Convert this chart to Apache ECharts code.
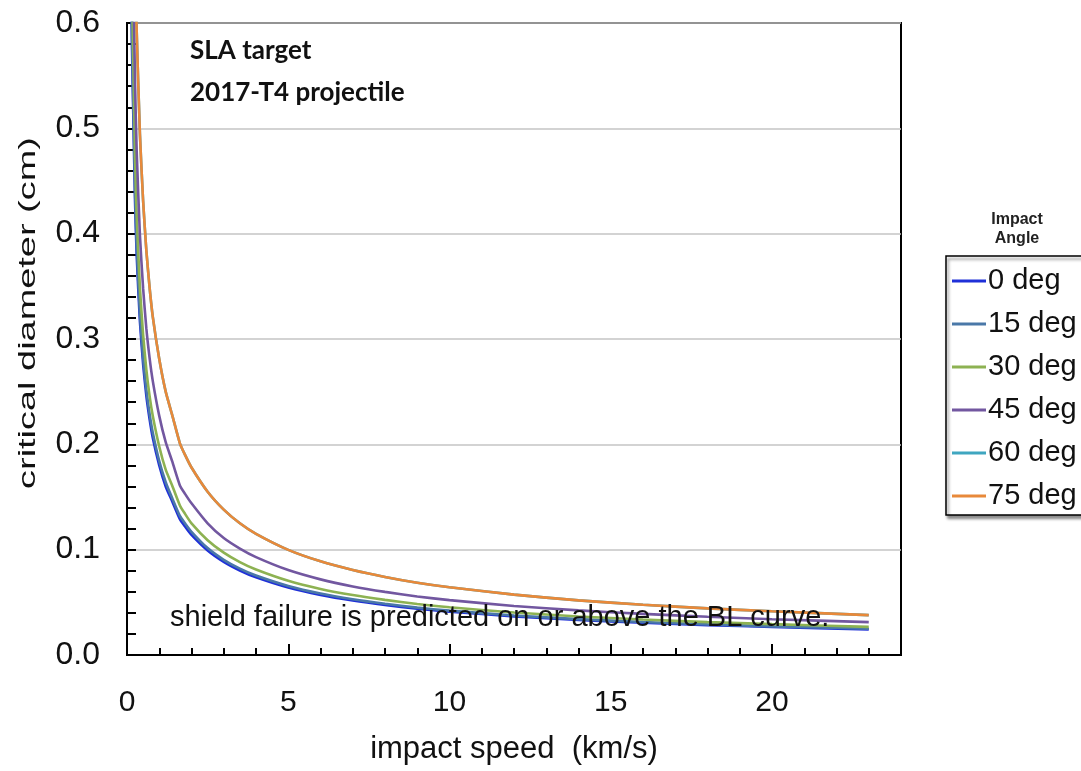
<!DOCTYPE html>
<html>
<head>
<meta charset="utf-8">
<script src="https://cdn.jsdelivr.net/npm/echarts@6/dist/echarts.min.js"></script>
<style>html,body{margin:0;padding:0;background:#fff;}#c{width:1081px;height:771px;}</style>
</head>
<body>
<div id="c"></div>
<script>
// impact speed (km/s)
const speed = [0.1, 0.15, 0.2, 0.25, 0.3, 0.4, 0.5, 0.6, 0.7, 0.8, 1.0, 1.2, 1.4, 1.64, 1.8, 2, 2.5, 3, 3.5, 4, 5, 6, 7, 8, 9, 10, 12, 14, 16, 18, 20, 23];
// critical diameter (cm) per impact angle
const deg0  = [0.748, 0.585, 0.505, 0.430, 0.380, 0.317, 0.276, 0.246, 0.224, 0.206, 0.180, 0.160, 0.146, 0.129, 0.122, 0.114, 0.0992, 0.0884, 0.0802, 0.0737, 0.0640, 0.0570, 0.0517, 0.0475, 0.0440, 0.0412, 0.0367, 0.0333, 0.0306, 0.0284, 0.0266, 0.0243];
const deg15 = [0.765, 0.598, 0.517, 0.440, 0.389, 0.324, 0.282, 0.252, 0.229, 0.211, 0.184, 0.164, 0.149, 0.132, 0.125, 0.117, 0.1015, 0.0904, 0.0820, 0.0754, 0.0655, 0.0583, 0.0529, 0.0486, 0.0450, 0.0421, 0.0375, 0.0341, 0.0313, 0.0291, 0.0272, 0.0249];
const deg30 = [0.823, 0.644, 0.556, 0.473, 0.418, 0.349, 0.304, 0.271, 0.246, 0.227, 0.198, 0.176, 0.161, 0.142, 0.134, 0.125, 0.109, 0.0972, 0.0882, 0.0811, 0.0704, 0.0627, 0.0569, 0.0523, 0.0484, 0.0453, 0.0404, 0.0366, 0.0337, 0.0312, 0.0293, 0.0267];
const deg45 = [0.942, 0.737, 0.636, 0.542, 0.479, 0.399, 0.348, 0.310, 0.282, 0.260, 0.227, 0.202, 0.184, 0.161, 0.153, 0.144, 0.125, 0.111, 0.101, 0.0929, 0.0806, 0.0718, 0.0651, 0.0599, 0.0556, 0.0521, 0.0465, 0.0424, 0.0390, 0.0363, 0.0340, 0.0312];
const deg60 = [1.167, 0.913, 0.788, 0.671, 0.593, 0.495, 0.431, 0.384, 0.349, 0.321, 0.281, 0.250, 0.228, 0.201, 0.190, 0.178, 0.155, 0.138, 0.125, 0.115, 0.0998, 0.0889, 0.0807, 0.0741, 0.0686, 0.0643, 0.0573, 0.0519, 0.0477, 0.0443, 0.0415, 0.0379];
const deg75 = [1.167, 0.913, 0.788, 0.671, 0.593, 0.495, 0.431, 0.384, 0.349, 0.321, 0.281, 0.250, 0.228, 0.201, 0.190, 0.178, 0.155, 0.138, 0.125, 0.115, 0.0998, 0.0889, 0.0807, 0.0741, 0.0686, 0.0643, 0.0573, 0.0519, 0.0477, 0.0443, 0.0415, 0.0379];
const seriesNames = ['0 deg', '15 deg', '30 deg', '45 deg', '60 deg', '75 deg'];
const seriesData = [deg0, deg15, deg30, deg45, deg60, deg75];
const colors = ['#1f30d8', '#4a78a8', '#8db252', '#7257a0', '#3fa6c0', '#e8893a'];
const yTicks = [0, 0.1, 0.2, 0.3, 0.4, 0.5, 0.6];
const xTicks = [0, 5, 10, 15, 20];

const FONT = 'Liberation Sans';
const chart = echarts.init(document.getElementById('c'), null, {renderer: 'canvas'});

const series = seriesNames.map((name, k) => ({
  name: name,
  type: 'line',
  xAxisIndex: 0,
  data: speed.map((v, i) => [v, seriesData[k][i]]),
  showSymbol: false,
  symbol: 'none',
  smooth: 0.2,
  clip: true,
  lineStyle: {color: colors[k], width: 2.6},
  itemStyle: {color: colors[k]},
  z: 2 + k
}));

chart.setOption({
  animation: false,
  backgroundColor: '#fff',
  color: colors,
  grid: {left: 127, top: 23, right: 180, bottom: 116, show: true, borderColor: '#000', borderWidth: 2, backgroundColor: 'transparent'},
  legend: {
    orient: 'vertical',
    left: 946, top: 256,
    data: seriesNames,
    icon: 'rect',
    itemWidth: 34, itemHeight: 3,
    itemGap: 13,
    padding: [10, 20, 4, 6],
    borderColor: '#000', borderWidth: 1.5,
    backgroundColor: '#fff',
    shadowColor: 'rgba(0,0,0,0.45)', shadowBlur: 3, shadowOffsetX: 2, shadowOffsetY: 3,
    textStyle: {fontFamily: FONT, fontSize: 29, color: '#111', lineHeight: 30, padding: [0,0,0,-3]}
  },
  xAxis: [{
    type: 'value', min: 0, max: 24, interval: 1,
    name: 'impact speed  (km/s)', nameLocation: 'middle', nameGap: 79,
    nameTextStyle: {fontFamily: FONT, fontSize: 31, color: '#111'},
    axisLine: {show: true, onZero: false, lineStyle: {color: '#000', width: 2}},
    axisTick: {show: true, inside: true, length: 7, lineStyle: {color: '#000', width: 2}},
    axisLabel: {
      fontFamily: FONT, fontSize: 30, color: '#111', margin: 33, showMaxLabel: false,
      formatter: v => (xTicks.indexOf(v) >= 0 ? String(v) : '')
    },
    splitLine: {show: false}
  }, {
    type: 'value', min: 0, max: 24, interval: 5, position: 'bottom', offset: 0,
    axisLine: {show: false},
    axisTick: {show: true, inside: true, length: 11, lineStyle: {color: '#000', width: 2}},
    axisLabel: {show: false},
    splitLine: {show: false}
  }],
  yAxis: {
    type: 'value', min: 0, max: 0.6, interval: 0.1,
    axisLine: {show: true, lineStyle: {color: '#000', width: 2}},
    axisTick: {show: true, inside: true, length: 9, lineStyle: {color: '#000', width: 2}},
    minorTick: {show: true, splitNumber: 5, length: 9, lineStyle: {color: '#000', width: 2}},
    axisLabel: {
      fontFamily: FONT, fontSize: 32, color: '#111', margin: 27,
      formatter: v => yTicks.some(t => Math.abs(t - v) < 1e-9) ? v.toFixed(1) : ''
    },
    splitLine: {show: true, lineStyle: {color: '#c4c4c4', width: 1.5}}
  },
  graphic: [
    {type: 'text', x: 28, y: 313, rotation: Math.PI / 2, scaleX: 1.58, z: 100,
     style: {text: 'critical diameter (cm)', fontFamily: FONT, fontSize: 24, fill: '#111', align: 'center', verticalAlign: 'middle'}},
    {type: 'text', x: 190, y: 51, z: 100, style: {text: 'SLA target', fontFamily: 'Lato', fontWeight: 'bold', fontSize: 26, fill: '#111', verticalAlign: 'middle'}},
    {type: 'text', x: 190, y: 93, z: 100, style: {text: '2017-T4 projectile', fontFamily: 'Lato', fontWeight: 'bold', fontSize: 26, fill: '#111', verticalAlign: 'middle'}},
    {type: 'text', x: 170, y: 618, z: 100, style: {text: 'shield failure is predicted on or above the BL curve.', fontFamily: FONT, fontSize: 29, fill: '#111', verticalAlign: 'middle'}},
    {type: 'text', x: 1017, y: 220, z: 100, style: {text: 'Impact', fontFamily: FONT, fontWeight: 'bold', fontSize: 16, fill: '#222', align: 'center', verticalAlign: 'middle'}},
    {type: 'text', x: 1017, y: 239, z: 100, style: {text: 'Angle', fontFamily: FONT, fontWeight: 'bold', fontSize: 16, fill: '#222', align: 'center', verticalAlign: 'middle'}}
  ],
  series: series
});
</script>
</body>
</html>
